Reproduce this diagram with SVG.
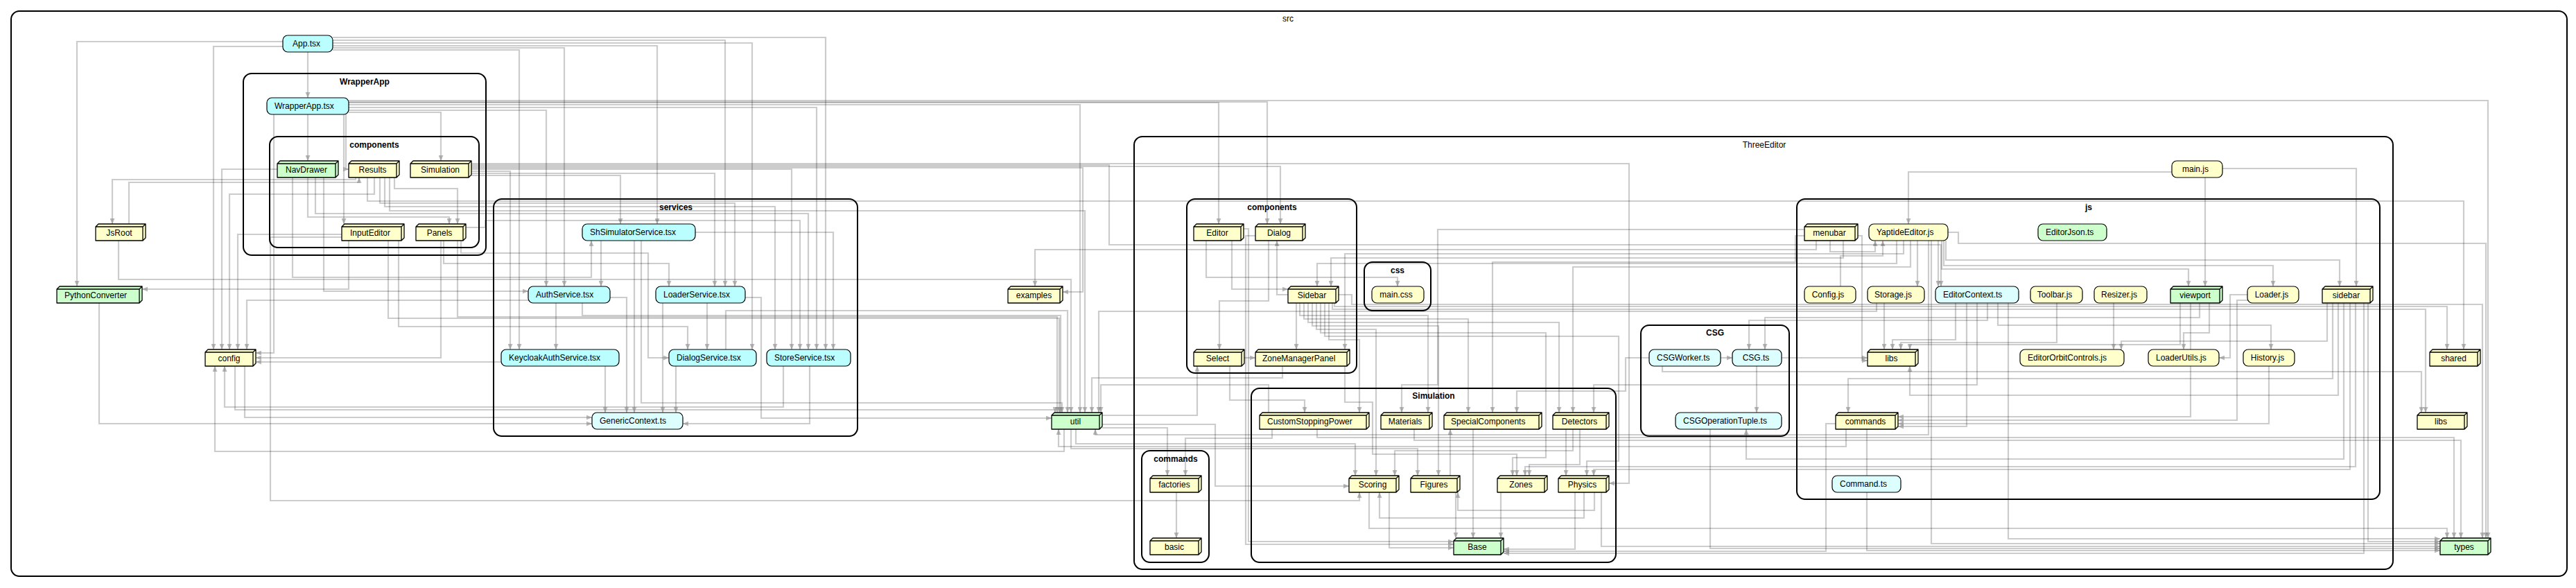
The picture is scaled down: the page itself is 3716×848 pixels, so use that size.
<svg xmlns="http://www.w3.org/2000/svg" width="3716" height="848" viewBox="0 0 3716 848">
<defs>
<style>
.c{fill:none;stroke:#000;stroke-width:2}
.cl{font-family:"Liberation Sans",Arial,sans-serif;font-size:12px;font-weight:bold;text-anchor:middle;fill:#000}
.cn{font-weight:normal}
.n{stroke:#000;stroke-width:1.2}
.b{stroke:#000;stroke-width:1.3;stroke-linejoin:round}
.t{font-family:"Liberation Sans",Arial,sans-serif;font-size:12px;fill:#000}
.m{text-anchor:middle}
.e{fill:none;stroke:#000;stroke-opacity:.2;stroke-width:2.2;marker-end:url(#a)}
.y{fill:#ffffcc}.g{fill:#ccffcc}.x{fill:#bbfeff}.s{fill:#ddfeff}
</style>
<marker id="a" viewBox="0 0 8 7" refX="8" refY="3.5" markerWidth="8" markerHeight="7" markerUnits="userSpaceOnUse" orient="auto">
<path d="M0,0L8,3.5L0,7Z" fill="#8c8c8c" fill-opacity=".6"/>
</marker>
</defs>
<rect width="3716" height="848" fill="#fff"/>

<g id="clusters">
<rect id="c-src" class="c" x="16" y="16" width="3687" height="815" rx="12"/>
<text class="cl cn" x="1858" y="31">src</text>
<rect id="c-WrapperApp" class="c" x="351" y="106" width="350" height="262" rx="12"/>
<text class="cl" x="526" y="122">WrapperApp</text>
<rect id="c-WA-components" class="c" x="389" y="197" width="302" height="160" rx="12"/>
<text class="cl" x="540" y="213">components</text>
<rect id="c-services" class="c" x="712" y="287" width="525" height="342" rx="12"/>
<text class="cl" x="975" y="303">services</text>
<rect id="c-ThreeEditor" class="c" x="1636" y="197" width="1816" height="624" rx="12"/>
<text class="cl cn" x="2545" y="213">ThreeEditor</text>
<rect id="c-TE-components" class="c" x="1712" y="287" width="245" height="251" rx="12"/>
<text class="cl" x="1835" y="303">components</text>
<rect id="c-css" class="c" x="1968" y="378" width="96" height="70" rx="12"/>
<text class="cl" x="2016" y="394">css</text>
<rect id="c-TE-commands" class="c" x="1647" y="650" width="97" height="161" rx="12"/>
<text class="cl" x="1696" y="666">commands</text>
<rect id="c-Simulation" class="c" x="1805" y="560" width="526" height="251" rx="12"/>
<text class="cl" x="2068" y="575">Simulation</text>
<rect id="c-CSG" class="c" x="2367" y="469" width="214" height="160" rx="12"/>
<text class="cl" x="2474" y="484">CSG</text>
<rect id="c-js" class="c" x="2592" y="287" width="841" height="433" rx="12"/>
<text class="cl" x="3013" y="303">js</text>
</g>

<g id="edges">
<path class="e" d="M408,60H111V413"/>
<path class="e" d="M408,67H308V504"/>
<path class="e" d="M444,75V141"/>
<path class="e" d="M480,54H1191V504"/>
<path class="e" d="M480,58H1046V413"/>
<path class="e" d="M480,62H1085V504"/>
<path class="e" d="M480,66H948V323"/>
<path class="e" d="M480,69H814V413"/>
<path class="e" d="M480,72H749V504"/>
<path class="e" d="M503,145H3589V776"/>
<path class="e" d="M503,148H1758V323"/>
<path class="e" d="M503,151H1558V595"/>
<path class="e" d="M503,155H1178V504"/>
<path class="e" d="M503,159H788V413"/>
<path class="e" d="M503,162H636V232"/>
<path class="e" d="M444,165V232"/>
<path class="e" d="M395,165V509H369"/>
<path class="e" d="M496,165V323"/>
<path class="e" d="M499,165V244H503"/>
<path class="e" d="M400,244H320V504"/>
<path class="e" d="M444,256V313H648V323"/>
<path class="e" d="M422,256V400H853V347"/>
<path class="e" d="M467,256V420H762"/>
<path class="e" d="M513,256V259H162V323"/>
<path class="e" d="M186,323V263H518V256"/>
<path class="e" d="M540,256V280H331V504"/>
<path class="e" d="M493,338H343V504"/>
<path class="e" d="M503,347V417H205"/>
<path class="e" d="M762,433H356V504"/>
<path class="e" d="M636,347V516H369"/>
<path class="e" d="M1535,619V651H310V528"/>
<path class="e" d="M1130,528V587H324V528"/>
<path class="e" d="M353,528V602H854"/>
<path class="e" d="M339,528V591H1522V595"/>
<path class="e" d="M143,437V611H854"/>
<path class="e" d="M171,347V403H1545V595"/>
<path class="e" d="M548,256V293H1060V413"/>
<path class="e" d="M555,256V298H1118V504"/>
<path class="e" d="M562,256V304H1565V595"/>
<path class="e" d="M569,256V272H660V323"/>
<path class="e" d="M530,256V290H3554V504"/>
<path class="e" d="M680,253H895V323"/>
<path class="e" d="M680,250H1031V413"/>
<path class="e" d="M680,240H1847V323"/>
<path class="e" d="M680,236H2350V697H2321"/>
<path class="e" d="M680,244H1142V504"/>
<path class="e" d="M680,247H736V504"/>
<path class="e" d="M660,347V457H1525V595"/>
<path class="e" d="M560,347V459H1528V595"/>
<path class="e" d="M840,437V455H1530V595"/>
<path class="e" d="M802,437V504"/>
<path class="e" d="M880,429H904V595"/>
<path class="e" d="M867,347V413"/>
<path class="e" d="M915,347V595"/>
<path class="e" d="M925,347V581H1532V595"/>
<path class="e" d="M956,437V595"/>
<path class="e" d="M1020,437V504"/>
<path class="e" d="M1075,429H1098V603H1517"/>
<path class="e" d="M975,528V595"/>
<path class="e" d="M873,528V595"/>
<path class="e" d="M723,522H369"/>
<path class="e" d="M1168,528V611H985"/>
<path class="e" d="M1047,504V448H1540V595"/>
<path class="e" d="M665,347V365H935V516H965"/>
<path class="e" d="M575,347V471H992V504"/>
<path class="e" d="M640,347V380H965V413"/>
<path class="e" d="M672,328H700V318H1154V504"/>
<path class="e" d="M455,256V308H1166V504"/>
<path class="e" d="M1003,335H1202V504"/>
<path class="e" d="M2620,347V360H1493V413"/>
<path class="e" d="M680,242H1562V421H1533"/>
<path class="e" d="M2659,347V372H1920V413"/>
<path class="e" d="M1777,347V417H1858"/>
<path class="e" d="M1740,347V400H2016V413"/>
<path class="e" d="M1830,347V434H1759V504"/>
<path class="e" d="M1858,425H1842V347"/>
<path class="e" d="M1870,437V504"/>
<path class="e" d="M1795,516H1811"/>
<path class="e" d="M503,147H1828V323"/>
<path class="e" d="M1875,437V455H2060V595"/>
<path class="e" d="M1881,437V460H2118V595"/>
<path class="e" d="M1887,437V465H2249V595"/>
<path class="e" d="M1893,437V470H2075V686"/>
<path class="e" d="M1899,437V475H1985V686"/>
<path class="e" d="M1905,437V480H2230V660H2182V686"/>
<path class="e" d="M1911,437V485H2335V665H2289V686"/>
<path class="e" d="M1917,437V490H1961V595"/>
<path class="e" d="M1940,528V580H1980V655H2188V686"/>
<path class="e" d="M1590,617H1684V686"/>
<path class="e" d="M1835,619V632H1710V686"/>
<path class="e" d="M1697,710V776"/>
<path class="e" d="M2259,619V686"/>
<path class="e" d="M2279,619V670H2206V686"/>
<path class="e" d="M2269,619V650H2012V686"/>
<path class="e" d="M2125,619V776"/>
<path class="e" d="M2100,710V776"/>
<path class="e" d="M2165,710V776"/>
<path class="e" d="M2004,710V790H2097"/>
<path class="e" d="M1975,710V762H3530V776"/>
<path class="e" d="M2272,710V792H2169"/>
<path class="e" d="M2310,710V788H3520"/>
<path class="e" d="M2092,686V619"/>
<path class="e" d="M493,342H390V722H1961V710"/>
<path class="e" d="M2285,710V747H1990V710"/>
<path class="e" d="M2300,710V736H2103V710"/>
<path class="e" d="M1794,330H1801V781H2097"/>
<path class="e" d="M1811,340H1797V785H2097"/>
<path class="e" d="M2648,611H2634V795H2169"/>
<path class="e" d="M2534,528V595"/>
<path class="e" d="M2482,516H2499"/>
<path class="e" d="M2570,516H2694"/>
<path class="e" d="M2680,340H2686V520H2694"/>
<path class="e" d="M2718,437V504"/>
<path class="e" d="M2821,437V490H2730V504"/>
<path class="e" d="M2967,437V494H2742V504"/>
<path class="e" d="M3145,437V497H2755V504"/>
<path class="e" d="M3049,437V504"/>
<path class="e" d="M3357,437V492H3060V504"/>
<path class="e" d="M3133,248H2753V323"/>
<path class="e" d="M3206,243H3399V413"/>
<path class="e" d="M3181,256V413"/>
<path class="e" d="M2766,347V413"/>
<path class="e" d="M2796,347V413"/>
<path class="e" d="M2807,347V375H3375V413"/>
<path class="e" d="M2801,347V388H3157V413"/>
<path class="e" d="M2804,347V383H3279V413"/>
<path class="e" d="M2810,335H2825V351H3586V776"/>
<path class="e" d="M2640,347V363H2705V347"/>
<path class="e" d="M2655,413V369H2716V347"/>
<path class="e" d="M2736,347V380H1900V413"/>
<path class="e" d="M2746,347V366H1940V504"/>
<path class="e" d="M2756,347V385H2269V595"/>
<path class="e" d="M2603,331H2074V555H2022V595"/>
<path class="e" d="M2603,340H2590V378H2153V595"/>
<path class="e" d="M2379,516H2345V564H2188V595"/>
<path class="e" d="M2852,437V555H2299V595"/>
<path class="e" d="M2867,437V462H2523V504"/>
<path class="e" d="M3173,437V458H2546V504"/>
<path class="e" d="M2707,437V449H1585V595"/>
<path class="e" d="M2837,437V615H2738"/>
<path class="e" d="M3160,437V601H2738"/>
<path class="e" d="M3242,433H3227V606H2738"/>
<path class="e" d="M3273,528V611H2738"/>
<path class="e" d="M3242,425H3217V516H3201"/>
<path class="e" d="M2882,437V469H3276V504"/>
<path class="e" d="M3187,437V480H3150V504"/>
<path class="e" d="M3365,437V546H2666V595"/>
<path class="e" d="M3373,437V570H2755V528"/>
<path class="e" d="M3381,437V662H2519V619"/>
<path class="e" d="M3390,437V677H2299V686"/>
<path class="e" d="M3398,437V673H2200V686"/>
<path class="e" d="M3410,437V798H2169"/>
<path class="e" d="M3416,437V781H3520"/>
<path class="e" d="M2897,437V777H3520"/>
<path class="e" d="M2786,347V784H3520"/>
<path class="e" d="M2467,619V791H3520"/>
<path class="e" d="M2693,619V794H3520"/>
<path class="e" d="M2663,619V644H1527V619"/>
<path class="e" d="M2782,347V627H1580V619"/>
<path class="e" d="M1900,619V631H3540V776"/>
<path class="e" d="M2040,619V635H3550V776"/>
<path class="e" d="M1922,437V446H3499V595"/>
<path class="e" d="M1925,437V442H3530V504"/>
<path class="e" d="M1931,425H1950V439H3581V776"/>
<path class="e" d="M2398,528V536H3493V595"/>
<path class="e" d="M1774,528V577H1882V595"/>
<path class="e" d="M1850,528V545H1575V595"/>
<path class="e" d="M1830,595V555H1588V595"/>
<path class="e" d="M1590,599H1727V528"/>
<path class="e" d="M1590,612H1753V701H1946"/>
<path class="e" d="M1552,619V640H1955V686"/>
<path class="e" d="M1545,619V647H2045V686"/>
<path class="e" d="M680,238H1600V353H2800V413"/>
</g>

<g id="nodes">
<g id="n-App"><rect class="n x" x="408" y="51" width="72" height="24" rx="7"/><text class="t m" x="442" y="67">App.tsx</text></g>
<g id="n-WrapperApp"><rect class="n x" x="385" y="141" width="118" height="24" rx="7"/><text class="t" x="396" y="157">WrapperApp.tsx</text></g>
<g id="n-NavDrawer"><path class="b g" d="M400,236L404,232H488V252L484,256H400ZM400,236H484V256M484,236L488,232"/><text class="t m" x="442" y="249">NavDrawer</text></g>
<g id="n-Results"><path class="b y" d="M503,236L507,232H576V252L572,256H503ZM503,236H572V256M572,236L576,232"/><text class="t m" x="537.5" y="249">Results</text></g>
<g id="n-SimulationWA"><path class="b y" d="M592,236L596,232H680V252L676,256H592ZM592,236H676V256M676,236L680,232"/><text class="t m" x="635" y="249">Simulation</text></g>
<g id="n-JsRoot"><path class="b y" d="M138,327L142,323H210V343L206,347H138ZM138,327H206V347M206,327L210,323"/><text class="t m" x="172" y="340">JsRoot</text></g>
<g id="n-InputEditor"><path class="b y" d="M493,327L497,323H583V343L579,347H493ZM493,327H579V347M579,327L583,323"/><text class="t m" x="534" y="340">InputEditor</text></g>
<g id="n-Panels"><path class="b y" d="M600,327L604,323H672V343L668,347H600ZM600,327H668V347M668,327L672,323"/><text class="t m" x="634" y="340">Panels</text></g>
<g id="n-PythonConverter"><path class="b g" d="M82,417L86,413H205V433L201,437H82ZM82,417H201V437M201,417L205,413"/><text class="t" x="93" y="430">PythonConverter</text></g>
<g id="n-config"><path class="b y" d="M296,508L300,504H369V524L365,528H296ZM296,508H365V528M365,508L369,504"/><text class="t m" x="330.5" y="521">config</text></g>
<g id="n-ShSimulatorService"><rect class="n x" x="840" y="323" width="163" height="24" rx="7"/><text class="t" x="851" y="339">ShSimulatorService.tsx</text></g>
<g id="n-AuthService"><rect class="n x" x="762" y="413" width="118" height="24" rx="7"/><text class="t" x="773" y="429">AuthService.tsx</text></g>
<g id="n-LoaderService"><rect class="n x" x="946" y="413" width="129" height="24" rx="7"/><text class="t" x="957" y="429">LoaderService.tsx</text></g>
<g id="n-KeycloakAuthService"><rect class="n x" x="723" y="504" width="170" height="24" rx="7"/><text class="t" x="734" y="520">KeycloakAuthService.tsx</text></g>
<g id="n-DialogService"><rect class="n x" x="965" y="504" width="126" height="24" rx="7"/><text class="t" x="976" y="520">DialogService.tsx</text></g>
<g id="n-StoreService"><rect class="n x" x="1106" y="504" width="121" height="24" rx="7"/><text class="t" x="1117" y="520">StoreService.tsx</text></g>
<g id="n-GenericContext"><rect class="n s" x="854" y="595" width="131" height="24" rx="7"/><text class="t" x="865" y="611">GenericContext.ts</text></g>
<g id="n-examples"><path class="b y" d="M1454,417L1458,413H1533V433L1529,437H1454ZM1454,417H1529V437M1529,417L1533,413"/><text class="t m" x="1491.5" y="430">examples</text></g>
<g id="n-util"><path class="b g" d="M1517,599L1521,595H1590V615L1586,619H1517ZM1517,599H1586V619M1586,599L1590,595"/><text class="t m" x="1551.5" y="612">util</text></g>
<g id="n-Editor"><path class="b y" d="M1722,327L1726,323H1794V343L1790,347H1722ZM1722,327H1790V347M1790,327L1794,323"/><text class="t m" x="1756" y="340">Editor</text></g>
<g id="n-Dialog"><path class="b y" d="M1811,327L1815,323H1883V343L1879,347H1811ZM1811,327H1879V347M1879,327L1883,323"/><text class="t m" x="1845" y="340">Dialog</text></g>
<g id="n-Sidebar"><path class="b y" d="M1858,417L1862,413H1931V433L1927,437H1858ZM1858,417H1927V437M1927,417L1931,413"/><text class="t m" x="1892.5" y="430">Sidebar</text></g>
<g id="n-Select"><path class="b y" d="M1722,508L1726,504H1795V524L1791,528H1722ZM1722,508H1791V528M1791,508L1795,504"/><text class="t m" x="1756.5" y="521">Select</text></g>
<g id="n-ZoneManagerPanel"><path class="b y" d="M1811,508L1815,504H1947V524L1943,528H1811ZM1811,508H1943V528M1943,508L1947,504"/><text class="t" x="1821" y="521">ZoneManagerPanel</text></g>
<g id="n-main-css"><rect class="n y" x="1979" y="413" width="75" height="24" rx="7"/><text class="t m" x="2014" y="429">main.css</text></g>
<g id="n-factories"><path class="b y" d="M1659,690L1663,686H1733V706L1729,710H1659ZM1659,690H1729V710M1729,690L1733,686"/><text class="t m" x="1694" y="703">factories</text></g>
<g id="n-basic"><path class="b y" d="M1659,780L1663,776H1733V796L1729,800H1659ZM1659,780H1729V800M1729,780L1733,776"/><text class="t m" x="1694" y="793">basic</text></g>
<g id="n-CustomStoppingPower"><path class="b y" d="M1817,599L1821,595H1975V615L1971,619H1817ZM1817,599H1971V619M1971,599L1975,595"/><text class="t" x="1828" y="612">CustomStoppingPower</text></g>
<g id="n-Materials"><path class="b y" d="M1992,599L1996,595H2066V615L2062,619H1992ZM1992,599H2062V619M2062,599L2066,595"/><text class="t m" x="2027" y="612">Materials</text></g>
<g id="n-SpecialComponents"><path class="b y" d="M2083,599L2087,595H2224V615L2220,619H2083ZM2083,599H2220V619M2220,599L2224,595"/><text class="t" x="2093" y="612">SpecialComponents</text></g>
<g id="n-Detectors"><path class="b y" d="M2240,599L2244,595H2321V615L2317,619H2240ZM2240,599H2317V619M2317,599L2321,595"/><text class="t m" x="2278.5" y="612">Detectors</text></g>
<g id="n-Scoring"><path class="b y" d="M1946,690L1950,686H2018V706L2014,710H1946ZM1946,690H2014V710M2014,690L2018,686"/><text class="t m" x="1980" y="703">Scoring</text></g>
<g id="n-Figures"><path class="b y" d="M2035,690L2039,686H2106V706L2102,710H2035ZM2035,690H2102V710M2102,690L2106,686"/><text class="t m" x="2068.5" y="703">Figures</text></g>
<g id="n-Zones"><path class="b y" d="M2160,690L2164,686H2232V706L2228,710H2160ZM2160,690H2228V710M2228,690L2232,686"/><text class="t m" x="2194" y="703">Zones</text></g>
<g id="n-Physics"><path class="b y" d="M2248,690L2252,686H2321V706L2317,710H2248ZM2248,690H2317V710M2317,690L2321,686"/><text class="t m" x="2282.5" y="703">Physics</text></g>
<g id="n-Base"><path class="b g" d="M2097,780L2101,776H2169V796L2165,800H2097ZM2097,780H2165V800M2165,780L2169,776"/><text class="t m" x="2131" y="793">Base</text></g>
<g id="n-CSGWorker"><rect class="n s" x="2379" y="504" width="103" height="24" rx="7"/><text class="t" x="2390" y="520">CSGWorker.ts</text></g>
<g id="n-CSG"><rect class="n s" x="2499" y="504" width="71" height="24" rx="7"/><text class="t m" x="2533" y="520">CSG.ts</text></g>
<g id="n-CSGOperationTuple"><rect class="n s" x="2417" y="595" width="153" height="24" rx="7"/><text class="t" x="2428" y="611">CSGOperationTuple.ts</text></g>
<g id="n-main-js"><rect class="n y" x="3133" y="232" width="73" height="24" rx="7"/><text class="t m" x="3167" y="248">main.js</text></g>
<g id="n-menubar"><path class="b y" d="M2603,327L2607,323H2680V343L2676,347H2603ZM2603,327H2676V347M2676,327L2680,323"/><text class="t m" x="2639" y="340">menubar</text></g>
<g id="n-YaptideEditor"><rect class="n y" x="2696" y="323" width="114" height="24" rx="7"/><text class="t" x="2707" y="339">YaptideEditor.js</text></g>
<g id="n-EditorJson"><rect class="n g" x="2940" y="323" width="99" height="24" rx="7"/><text class="t" x="2951" y="339">EditorJson.ts</text></g>
<g id="n-Config-js"><rect class="n y" x="2603" y="413" width="74" height="24" rx="7"/><text class="t m" x="2637" y="429">Config.js</text></g>
<g id="n-Storage-js"><rect class="n y" x="2694" y="413" width="82" height="24" rx="7"/><text class="t m" x="2731" y="429">Storage.js</text></g>
<g id="n-EditorContext"><rect class="n s" x="2792" y="413" width="120" height="24" rx="7"/><text class="t" x="2803" y="429">EditorContext.ts</text></g>
<g id="n-Toolbar"><rect class="n y" x="2929" y="413" width="75" height="24" rx="7"/><text class="t m" x="2964" y="429">Toolbar.js</text></g>
<g id="n-Resizer"><rect class="n y" x="3021" y="413" width="76" height="24" rx="7"/><text class="t m" x="3057" y="429">Resizer.js</text></g>
<g id="n-viewport"><path class="b g" d="M3131,417L3135,413H3206V433L3202,437H3131ZM3131,417H3202V437M3202,417L3206,413"/><text class="t m" x="3166.5" y="430">viewport</text></g>
<g id="n-Loader-js"><rect class="n y" x="3242" y="413" width="74" height="24" rx="7"/><text class="t m" x="3277" y="429">Loader.js</text></g>
<g id="n-sidebar"><path class="b y" d="M3350,417L3354,413H3423V433L3419,437H3350ZM3350,417H3419V437M3419,417L3423,413"/><text class="t m" x="3384.5" y="430">sidebar</text></g>
<g id="n-libs-js"><path class="b y" d="M2694,508L2698,504H2767V524L2763,528H2694ZM2694,508H2763V528M2763,508L2767,504"/><text class="t m" x="2728.5" y="521">libs</text></g>
<g id="n-EditorOrbitControls"><rect class="n y" x="2914" y="504" width="150" height="24" rx="7"/><text class="t" x="2925" y="520">EditorOrbitControls.js</text></g>
<g id="n-LoaderUtils"><rect class="n y" x="3099" y="504" width="102" height="24" rx="7"/><text class="t" x="3110" y="520">LoaderUtils.js</text></g>
<g id="n-History"><rect class="n y" x="3236" y="504" width="74" height="24" rx="7"/><text class="t m" x="3271" y="520">History.js</text></g>
<g id="n-commands-js"><path class="b y" d="M2648,599L2652,595H2738V615L2734,619H2648ZM2648,599H2734V619M2734,599L2738,595"/><text class="t m" x="2691" y="612">commands</text></g>
<g id="n-Command"><rect class="n s" x="2643" y="686" width="99" height="24" rx="7"/><text class="t" x="2654" y="702">Command.ts</text></g>
<g id="n-shared"><path class="b y" d="M3505,508L3509,504H3578V524L3574,528H3505ZM3505,508H3574V528M3574,508L3578,504"/><text class="t m" x="3539.5" y="521">shared</text></g>
<g id="n-libs"><path class="b y" d="M3487,599L3491,595H3559V615L3555,619H3487ZM3487,599H3555V619M3555,599L3559,595"/><text class="t m" x="3521" y="612">libs</text></g>
<g id="n-types"><path class="b g" d="M3520,780L3524,776H3593V796L3589,800H3520ZM3520,780H3589V800M3589,780L3593,776"/><text class="t m" x="3554.5" y="793">types</text></g>
</g>
</svg>
